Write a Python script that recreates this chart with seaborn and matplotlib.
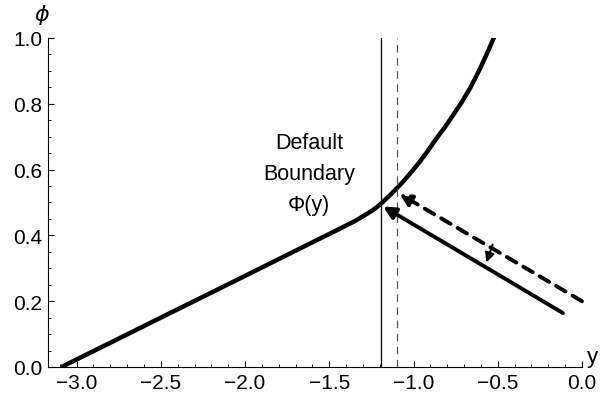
import matplotlib
matplotlib.use("Agg")
import pandas as pd
import seaborn as sns
import matplotlib.pyplot as plt
from matplotlib.ticker import MultipleLocator, FormatStrFormatter

# default boundary curve Phi(y)
phi_x = [-3.09, -2.5, -2.0, -1.6, -1.45, -1.40, -1.35, -1.30, -1.25, -1.22,
         -1.192, -1.13, -1.064, -1.014, -0.964, -0.915, -0.865, -0.815,
         -0.766, -0.716, -0.667, -0.627, -0.5875, -0.553, -0.518]
phi_y = [0.0, 0.15, 0.277, 0.379, 0.417, 0.430, 0.443, 0.458, 0.474, 0.485,
         0.497, 0.527, 0.562, 0.592, 0.623, 0.657, 0.694, 0.728,
         0.765, 0.803, 0.845, 0.884, 0.926, 0.965, 1.007]

# vertical reference lines
boundary_x = -1.192
shifted_x = -1.097

# arrows: (start x, start y, end x, end y)
solid_arrow = (-0.113, 0.164, -1.18, 0.488)
dashed_arrow = (0.0, 0.2, -1.085, 0.527)
small_arrow = (-0.53, 0.372, -0.567, 0.318)

label_lines = ["Default", "Boundary", "Φ(y)"]
label_x = -1.62
label_y = [0.683, 0.588, 0.494]

sns.set_style("ticks")
plt.rcParams['font.family'] = ['Liberation Sans', 'DejaVu Sans']
plt.rcParams['text.color'] = 'black'
plt.rcParams['xtick.color'] = 'black'
plt.rcParams['ytick.color'] = 'black'
plt.rcParams['axes.edgecolor'] = 'black'

fig = plt.figure(figsize=(6.1, 4.02), dpi=100)
ax = fig.add_axes([0.0787, 0.0846, 0.954 - 0.0787, 0.903 - 0.0846])

df = pd.DataFrame({'y': phi_x, 'phi': phi_y})
sns.lineplot(data=df, x='y', y='phi', sort=False, color='black', lw=3.2, ax=ax,
             solid_capstyle='butt', solid_joinstyle='round')

ax.axvline(boundary_x, color='black', lw=0.9)
ax.axvline(shifted_x, color='#555555', lw=0.9, dashes=(6, 4.5))

sx, sy, ex, ey = solid_arrow
ax.annotate('', xy=(ex, ey), xytext=(sx, sy),
            arrowprops=dict(arrowstyle='-|>', color='black', lw=2.8,
                            mutation_scale=18, shrinkA=0, shrinkB=0))
sx, sy, ex, ey = dashed_arrow
ax.annotate('', xy=(ex, ey), xytext=(sx, sy),
            arrowprops=dict(arrowstyle='-|>', color='black', lw=2.8,
                            linestyle=(0, (2.8, 2.1)),
                            mutation_scale=18, shrinkA=0, shrinkB=0))
sx, sy, ex, ey = small_arrow
ax.annotate('', xy=(ex, ey), xytext=(sx, sy),
            arrowprops=dict(arrowstyle='-|>', color='black', lw=1.5,
                            mutation_scale=14, shrinkA=0, shrinkB=0))

for txt, ty in zip(label_lines, label_y):
    ax.text(label_x, ty, txt, ha='center', va='center', fontsize=15.5)

ax.set_xlim(-3.17, 0.0)
ax.set_ylim(0.0, 1.0)
ax.xaxis.set_major_locator(MultipleLocator(0.5))
ax.xaxis.set_minor_locator(MultipleLocator(0.1))
ax.yaxis.set_major_locator(MultipleLocator(0.2))
ax.yaxis.set_minor_locator(MultipleLocator(0.05))
ax.yaxis.set_major_formatter(FormatStrFormatter('%.1f'))
ax.tick_params(which='major', direction='in', length=4.5, width=0.8,
               labelsize=15, pad=4)
ax.tick_params(which='minor', direction='in', length=2.5, width=0.7)
# unicode minus in x tick labels
xt = [-3.0, -2.5, -2.0, -1.5, -1.0, -0.5, 0.0]
ax.set_xticks(xt)
ax.set_xticklabels([f"{v:.1f}".replace('-', '\u2212') for v in xt])
ax.set_xlim(-3.17, 0.0)

sns.despine(ax=ax)
for s in ['left', 'bottom']:
    ax.spines[s].set_linewidth(0.8)

ax.set_xlabel('')
ax.set_ylabel('')
ax.text(1.01, 0.0, 'y', transform=ax.transAxes, fontsize=16,
        ha='left', va='bottom')
ax.text(-0.012, 1.035, '$\\phi$', transform=ax.transAxes, fontsize=16,
        ha='center', va='bottom')

fig.savefig('out.png', dpi=100)
